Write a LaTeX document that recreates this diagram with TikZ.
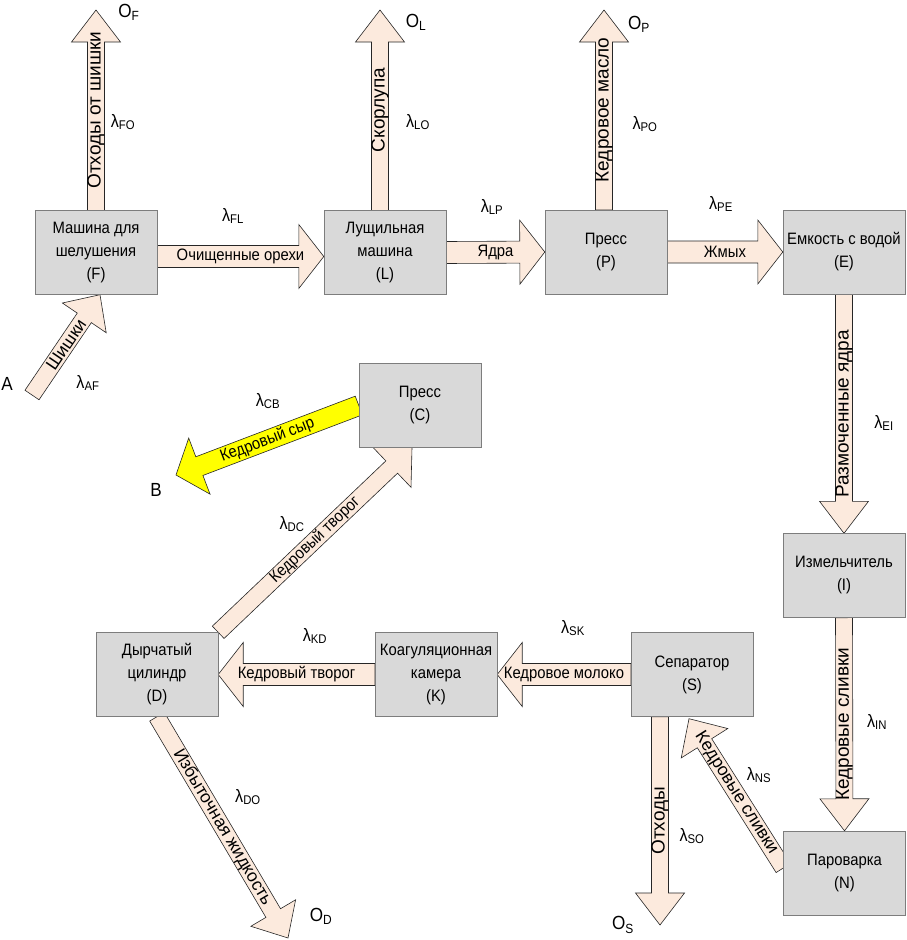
\documentclass[tikz,border=0pt]{standalone}
\usepackage{fontspec}
\setmainfont{Liberation Sans}[FakeStretch=0.9]
\newfontfamily\plainsans{Liberation Sans}
\usetikzlibrary{calc,backgrounds}

\definecolor{machinegray}{RGB}{217,217,217}
\definecolor{framegray}{RGB}{125,125,125}
\definecolor{peach}{RGB}{252,234,221}
\definecolor{cheese}{RGB}{255,255,0}

\newcommand\boxfont{\fontsize{16.5}{23}\selectfont}
\newcommand\bigfont{\fontsize{19}{22}\selectfont}
\newcommand\ratefont{\fontsize{18}{20}\selectfont}
\newcommand\vertfont{\plainsans\fontsize{19}{22}\selectfont}
\newcommand\slantfont{\plainsans\fontsize{17.5}{20}\selectfont}

\tikzset{
  flow shaft/.store in=\flowshaft,
  flow head/.store in=\flowhead,
  flow tip/.store in=\flowtip,
  flow fill/.store in=\flowfill,
  flow font/.store in=\flowfont,
  flow shaft=8.5pt, flow head=24.5pt, flow tip=32pt, flow fill=peach,
  flow font=\boxfont
}

% block arrow: [options]{from}{to}{name}{text}
\newcommand\flow[5][]{%
  \begin{scope}[on background layer, #1]
    \filldraw[draw=black!85, fill=\flowfill, line width=0.6pt]
      let \p1=($(#3)-(#2)$),
          \n1={atan2(\y1,\x1)},
          \n2={veclen(\x1,\y1)-\flowtip},
          \n3={\n1<-89 ? \n1+180 : (\n1>91 ? \n1-180 : \n1)} in
      ($(#2)+(\n1+90:\flowshaft)$)
      -- ($(#2)+(\n1:\n2)+(\n1+90:\flowshaft)$)
      -- ($(#2)+(\n1:\n2)+(\n1+90:\flowhead)$)
      -- (#3)
      -- ($(#2)+(\n1:\n2)+(\n1-90:\flowhead)$)
      -- ($(#2)+(\n1:\n2)+(\n1-90:\flowshaft)$)
      -- ($(#2)+(\n1-90:\flowshaft)$) -- cycle
      ($(#2)!0.5!(#3)$) node[lab, font=\flowfont, rotate=\n3] (#4) {#5};
  \end{scope}%
}

\begin{document}
\begin{tikzpicture}[x=1pt, y=-1pt,
    machine/.style={draw=framegray, fill=machinegray, minimum width=122pt, minimum height=84pt, inner sep=1pt, align=center, font=\boxfont},
    lab/.style={inner sep=0pt},
    rate/.style={font=\ratefont, inner sep=0pt},
    term/.style={font=\bigfont, inner sep=0pt},
    wideflow/.style={flow shaft=11pt, flow head=32pt, flow tip=25pt},
    vflow/.style={flow font=\vertfont},
    sflow/.style={flow font=\slantfont}
  ]
  \useasboundingbox (0,0) rectangle (906,940);

  \node[machine] (F) at (96,252.5) {Машина для\\шелушения\\(F)};
  \node[machine] (L) at (385,252.5) {Лущильная\\машина\\(L)};
  \node[machine] (P) at (606,252) {Пресс\\(P)};
  \node[machine] (E) at (844,252) {Емкость с водой\\(E)};
  \node[machine] (I) at (844,575.5) {Измельчитель\\(I)};
  \node[machine] (N) at (844.5,873) {Пароварка\\(N)};
  \node[machine] (S) at (692,674.5) {Сепаратор\\(S)};
  \node[machine] (K) at (436,674.5) {Коагуляционная\\камера\\(K)};
  \node[machine] (D) at (157,674.5) {Дырчатый\\цилиндр\\(D)};
  \node[machine] (C) at (420,405.5) {Пресс\\(C)};

  \node[term] (A) at (7,384) {A};
  \node[term] (B) at (156,490) {B};
  \node[term] (OF) at (129,12) {O\textsubscript{F}};
  \node[term] (OL) at (416,22) {O\textsubscript{L}};
  \node[term] (OP) at (639,24) {O\textsubscript{P}};
  \node[term] (OD) at (321,916) {O\textsubscript{D}};
  \node[term] (OS) at (623,925) {O\textsubscript{S}};

  \coordinate (Astart) at (32,395);
  \coordinate (Fin) at ($(F.south)+(4,0)$);
  \coordinate (FLa) at ($(F.east)+(0,4)$);
  \coordinate (FLb) at ($(L.west)+(0,4)$);
  \coordinate (OFend) at (96,10);
  \coordinate (LOa) at ($(L.north)+(-5,0)$);
  \coordinate (OLend) at (380,10);
  \coordinate (POa) at ($(P.north)+(-2,0)$);
  \coordinate (OPend) at (604,10);
  \coordinate (SOa) at ($(S.south)+(-32,0)$);
  \coordinate (OSend) at (660,925);
  \coordinate (NSa) at ($(N.west)+(0,-5)$);
  \coordinate (NSb) at ($(S.south)+(-3,2)$);
  \coordinate (ODend) at (288,938);
  \coordinate (DCb) at ($(C.south)+(-8,0)$);
  \coordinate (Bend) at (176,475);

  \flow[sflow, flow head=26.5pt, flow tip=28pt]{Astart}{Fin}{tAF}{Шишки}
  \flow[wideflow]{FLa}{FLb}{tFL}{Очищенные орехи}
  \flow[wideflow]{L.east}{P.west}{tLP}{Ядра}
  \flow[wideflow]{P.east}{E.west}{tPE}{Жмых}
  \flow[vflow]{F.north}{OFend}{tFO}{Отходы от шишки}
  \flow[vflow]{LOa}{OLend}{tLO}{Скорлупа}
  \flow[vflow]{POa}{OPend}{tPO}{Кедровое масло}
  \flow[vflow]{E.south}{I.north}{tEI}{Размоченные ядра}
  \flow[vflow]{I.south}{N.north}{tIN}{Кедровые сливки}
  \flow[wideflow]{S.west}{K.east}{tSK}{Кедровое молоко}
  \flow[wideflow]{K.west}{D.east}{tKD}{Кедровый творог}
  \flow[vflow]{SOa}{OSend}{tSO}{Отходы}
  \flow[sflow, flow head=27.5pt, flow tip=29pt]{NSa}{NSb}{tNS}{Кедровые сливки}
  \flow[sflow, flow head=26pt, flow tip=29pt]{D.south}{ODend}{tDO}{Избыточная жидкость}
  \flow[flow head=28pt, flow tip=28pt]{D.north east}{DCb}{tDC}{Кедровый творог}
  \flow[flow shaft=10pt, flow head=30pt, flow tip=25pt, flow fill=cheese]{C.west}{Bend}{tCB}{Кедровый сыр}

  \node[rate] (lFO) at (123,122) {λ\textsubscript{FO}};
  \node[rate] (lFL) at (233,216) {λ\textsubscript{FL}};
  \node[rate] (lAF) at (88,383) {λ\textsubscript{AF}};
  \node[rate] (lLO) at (418,122) {λ\textsubscript{LO}};
  \node[rate] (lLP) at (492,207) {λ\textsubscript{LP}};
  \node[rate] (lPO) at (645,124) {λ\textsubscript{PO}};
  \node[rate] (lPE) at (721,204) {λ\textsubscript{PE}};
  \node[rate] (lEI) at (884,423) {λ\textsubscript{EI}};
  \node[rate] (lCB) at (268,401) {λ\textsubscript{CB}};
  \node[rate] (lDC) at (292,524) {λ\textsubscript{DC}};
  \node[rate] (lKD) at (315,636) {λ\textsubscript{KD}};
  \node[rate] (lSK) at (573,628) {λ\textsubscript{SK}};
  \node[rate] (lDO) at (248,797) {λ\textsubscript{DO}};
  \node[rate] (lIN) at (877,722) {λ\textsubscript{IN}};
  \node[rate] (lNS) at (759,775) {λ\textsubscript{NS}};
  \node[rate] (lSO) at (692,836) {λ\textsubscript{SO}};
\end{tikzpicture}
\end{document}
